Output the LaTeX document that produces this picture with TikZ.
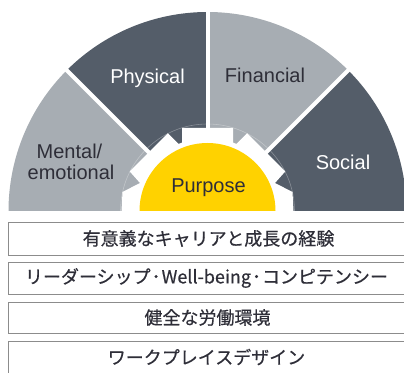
\documentclass[tikz,border=0pt]{standalone}
\usepackage{fontspec}
\setmainfont{Liberation Sans}
\newfontfamily\cjk[FakeBold=0.5]{Noto Sans CJK JP}
\definecolor{segLight}{HTML}{A7ADB3}
\definecolor{segDark}{HTML}{545D69}
\definecolor{eyYellow}{HTML}{FFD200}
\definecolor{txtDark}{HTML}{2E2E38}
\definecolor{boxLine}{HTML}{8C8C8C}
\tikzset{
  seglabel/.style={font=\fontsize{20}{24}\selectfont, anchor=base, inner sep=0pt},
  boxlabel/.style={font=\cjk\fontsize{18}{20}\selectfont, text=txtDark, inner sep=0pt},
  framebox/.style={draw=boxLine, line width=0.9pt},
  gap/.style={white, line width=4pt}
}
\begin{document}
\begin{tikzpicture}[x=1pt,y=1pt]
\useasboundingbox (0,0) rectangle (404,372);
\clip (0,0) rectangle (404,372);
\coordinate (C) at (207.5,161);
% segments
\fill[segLight] (C) -- ++(180:199pt) arc[start angle=180,end angle=135,radius=199pt] -- cycle;
\fill[segDark]  (C) -- ++(135:199pt) arc[start angle=135,end angle=90,radius=199pt] -- cycle;
\fill[segLight] (C) -- ++(90:199pt) arc[start angle=90,end angle=45,radius=199pt] -- cycle;
\fill[segDark]  (C) -- ++(45:199pt) arc[start angle=45,end angle=0,radius=199pt] -- cycle;
\draw[gap] (C) -- ++(135:205pt);
\draw[gap] (C) -- ++(90:205pt);
\draw[gap] (C) -- ++(45:205pt);
% faint ring
\draw[white, opacity=0.3, line width=0.6pt] (C) ++(0:87pt) arc[start angle=0,end angle=180,radius=87pt];
% gear
\begin{scope}[shift={(C)}]
\fill[white] (86,0) -- (85,19) -- (67.5,28) -- (77.8,39.6) -- (39.6,77.8) -- (28.9,67.1) -- (25.5,68.4)
  -- (25.5,83) -- (-25.5,83) -- (-25.5,68.4) -- (-28.9,67.1) -- (-39.6,77.8) -- (-77.8,39.6)
  -- (-67.5,28) -- (-85,19) -- (-86,0) -- cycle;
\fill[eyYellow] (68,0) arc[start angle=0,end angle=180,radius=68pt] -- cycle;
\end{scope}
% labels
\node[seglabel, text=white] (phys) at (147.5,288.7) {Physical};
\node[seglabel, text=txtDark] (fin) at (265,289.3) {Financial};
\node[seglabel, text=txtDark] (ment) at (69.5,213) {Mental/};
\node[seglabel, text=txtDark] (emo) at (71,192) {emotional};
\node[seglabel, text=white] (soc) at (343,202) {Social};
\node[seglabel, text=txtDark] (purp) at (208.5,179) {Purpose};
% boxes
\draw[framebox] (8.5,150) rectangle (412,117);
\draw[framebox] (8.5,110) rectangle (412,78);
\draw[framebox] (8.5,70) rectangle (412,39);
\draw[framebox] (8.5,31) rectangle (412,-4);
\node[boxlabel] (b1) at (208.5,133.5) {有意義なキャリアと成長の経験};
\node[boxlabel] (b2) at (206.5,94) {リーダーシップ\hspace{1pt}･\hspace{1pt}Well-being\hspace{1pt}･\hspace{1pt}コンピテンシー};
\node[boxlabel] (b3) at (207.5,54.5) {健全な労働環境};
\node[boxlabel] (b4) at (206.5,15) {ワークプレイスデザイン};
\end{tikzpicture}
\end{document}
